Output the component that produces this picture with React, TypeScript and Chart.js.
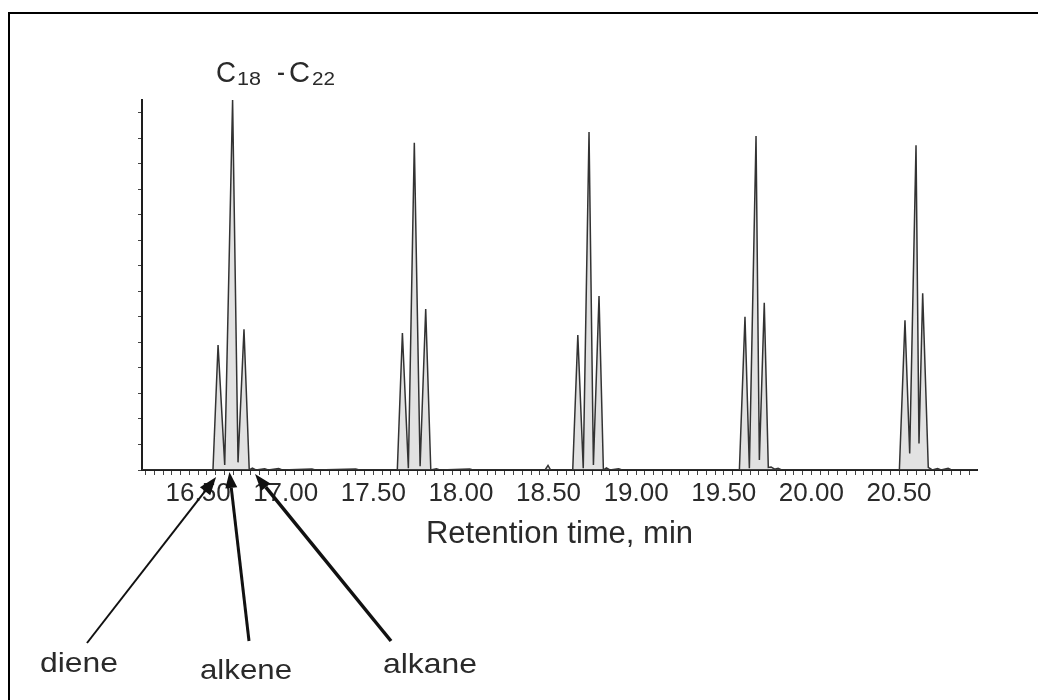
import React, { useEffect, useRef } from "react";
import { Chart, registerables } from "chart.js";

Chart.register(...registerables);

// ---- data ----
const retentionTimes = [
  16.18, 16.585, 16.614, 16.652, 16.697, 16.728, 16.762, 16.792,
  16.81, 16.83, 16.88, 16.9, 16.96, 16.98, 17.15, 17.17, 17.4, 17.42,
  17.637, 17.666, 17.7, 17.734, 17.767, 17.799, 17.828,
  17.86, 17.88, 18.05, 18.07, 18.48, 18.497, 18.512,
  18.638, 18.667, 18.698, 18.731, 18.756, 18.788, 18.813,
  18.83, 18.85, 18.9, 18.92,
  19.589, 19.621, 19.646, 19.684, 19.703, 19.731, 19.754, 19.77, 19.79, 19.81, 19.83,
  20.502, 20.534, 20.561, 20.597, 20.614, 20.635, 20.667, 20.69, 20.72, 20.74, 20.78, 20.8, 20.945,
];
const signal = [
  0, 0, 4.9, 0.2, 14.5, 0.3, 5.51, 0,
  0.07, 0, 0.05, 0, 0.06, 0, 0.04, 0, 0.04, 0,
  0, 5.37, 0.07, 12.82, 0.15, 6.31, 0,
  0.05, 0, 0.04, 0, 0, 0.18, 0,
  0, 5.29, 0.07, 13.25, 0.2, 6.82, 0,
  0.08, 0, 0.05, 0,
  0, 6.0, 0.07, 13.09, 0.39, 6.55, 0.1, 0.12, 0.03, 0.07, 0,
  0, 5.87, 0.65, 12.73, 1.04, 6.93, 0.1, 0, 0.06, 0, 0.07, 0, 0,
];
const xMajorTicks = [16.5, 17.0, 17.5, 18.0, 18.5, 19.0, 19.5, 20.0, 20.5];
const xMinorStep = 0.05;
const xMin = 16.18;
const xMax = 20.945;
const yMin = 0;
const yMax = 14.5;
const yTickStep = 1;
const xAxisTitle = "Retention time, min";
const arrowLabels = ["diene", "alkene", "alkane"];
const arrowTargetTimes = [16.603, 16.679, 16.825];

// ---- presentation ----
const FONT = '"Liberation Sans", Arial, Helvetica, sans-serif';
const INK = "#1e1e1e";

const arrowStyles = [
  { tailX: 87, tailY: 643, tipDrop: 7, lw: 2, head: 18, headW: 13, textX: 40, textY: 672, textW: 78 },
  { tailX: 249, tailY: 641, tipDrop: 2, lw: 3, head: 16, headW: 12, textX: 200, textY: 679, textW: 92 },
  { tailX: 391, tailY: 641, tipDrop: 4, lw: 3.5, head: 17, headW: 12, textX: 383, textY: 673, textW: 94 },
];

function drawFitText(ctx: CanvasRenderingContext2D, text: string, x: number, y: number, size: number, width: number) {
  ctx.font = `${size}px ${FONT}`;
  const w = ctx.measureText(text).width || 1;
  ctx.save();
  ctx.translate(x, y);
  ctx.scale(width / w, 1);
  ctx.textAlign = "left";
  ctx.textBaseline = "alphabetic";
  ctx.fillText(text, 0, 0);
  ctx.restore();
}

function drawArrow(ctx: CanvasRenderingContext2D, x1: number, y1: number, x2: number, y2: number, lw: number, headLen: number, headW: number) {
  const ang = Math.atan2(y2 - y1, x2 - x1);
  const bx = x2 - headLen * Math.cos(ang);
  const by = y2 - headLen * Math.sin(ang);
  ctx.lineWidth = lw;
  ctx.beginPath();
  ctx.moveTo(x1, y1);
  ctx.lineTo(bx, by);
  ctx.stroke();
  ctx.beginPath();
  ctx.moveTo(x2, y2);
  ctx.lineTo(bx + (headW / 2) * Math.sin(ang), by - (headW / 2) * Math.cos(ang));
  ctx.lineTo(bx - (headW / 2) * Math.sin(ang), by + (headW / 2) * Math.cos(ang));
  ctx.closePath();
  ctx.fill();
}

const annotationPlugin = {
  id: "chromAnnotations",
  afterDraw(chart: any) {
    const ctx: CanvasRenderingContext2D = chart.ctx;
    const xs = chart.scales.x;
    const ys = chart.scales.y;
    ctx.save();
    ctx.fillStyle = "#000";
    // frame (left + top edges)
    ctx.fillRect(8, 12, 2, 700);
    ctx.fillRect(8, 12, 1100, 2);

    ctx.fillStyle = "#2a2a2a";
    // C18 -C22 label
    drawFitText(ctx, "C", 216, 82, 29, 20);
    drawFitText(ctx, "18", 237, 85, 18, 24);
    drawFitText(ctx, "-", 277, 82, 29, 8);
    drawFitText(ctx, "C", 289, 82, 29, 21);
    drawFitText(ctx, "22", 312, 85, 18, 23);

    // arrows to diene / alkene / alkane
    ctx.strokeStyle = "#111";
    ctx.fillStyle = "#111";
    const base = ys.getPixelForValue(0);
    arrowLabels.forEach((label, i) => {
      const s = arrowStyles[i];
      const tipX = xs.getPixelForValue(arrowTargetTimes[i]);
      const tipY = base + s.tipDrop;
      drawArrow(ctx, s.tailX, s.tailY, tipX, tipY, s.lw, s.head, s.headW);
    });
    ctx.fillStyle = "#2a2a2a";
    arrowLabels.forEach((label, i) => {
      const s = arrowStyles[i];
      drawFitText(ctx, label, s.textX, s.textY, 28, s.textW);
    });
    ctx.restore();
  },
};

export default function App() {
  const canvasRef = useRef<HTMLCanvasElement | null>(null);

  useEffect(() => {
    if (!canvasRef.current) return;
    const points = retentionTimes.map((t, i) => ({ x: t, y: signal[i] }));
    const chart = new Chart(canvasRef.current, {
      type: "line",
      data: {
        datasets: [
          {
            data: points,
            borderColor: "#333",
            borderWidth: 1.5,
            pointRadius: 0,
            tension: 0,
            fill: "origin",
            backgroundColor: "rgba(150,150,150,0.28)",
          },
        ],
      },
      options: {
        responsive: false,
        animation: false,
        devicePixelRatio: 1,
        layout: { padding: { left: 0, top: 100, right: 61, bottom: 0 } },
        plugins: {
          legend: { display: false },
          tooltip: { enabled: false },
          filler: { propagate: false },
        },
        scales: {
          x: {
            type: "linear",
            min: xMin,
            max: xMax,
            afterBuildTicks: (axis: any) => {
              const ticks = [];
              const start = Math.ceil(xMin / xMinorStep - 1e-9);
              const end = Math.floor(xMax / xMinorStep + 1e-9);
              for (let i = start; i <= end; i++) ticks.push({ value: +(i * xMinorStep).toFixed(4) });
              axis.ticks = ticks;
            },
            afterFit: (axis: any) => {
              axis.height = 230;
            },
            ticks: {
              autoSkip: false,
              maxRotation: 0,
              minRotation: 0,
              padding: 3,
              color: "#2a2a2a",
              font: { family: FONT, size: 26 },
              callback: (value: any) =>
                xMajorTicks.some((m) => Math.abs(m - Number(value)) < 1e-6) ? Number(value).toFixed(2) : "",
            },
            grid: {
              display: true,
              drawOnChartArea: false,
              drawTicks: true,
              tickLength: 5,
              color: "#444",
              lineWidth: 1,
            },
            border: { display: true, color: INK, width: 2 },
            title: {
              display: true,
              text: xAxisTitle,
              color: "#2a2a2a",
              font: { family: FONT, size: 31 },
              padding: { top: 0, bottom: 147 },
            },
          },
          y: {
            type: "linear",
            min: yMin,
            max: yMax,
            afterBuildTicks: (axis: any) => {
              const ticks = [];
              for (let v = yMin; v <= yMax + 1e-9; v += yTickStep) ticks.push({ value: v });
              axis.ticks = ticks;
            },
            afterFit: (axis: any) => {
              axis.width = 142;
            },
            ticks: { display: false },
            grid: {
              display: true,
              drawOnChartArea: false,
              drawTicks: true,
              tickLength: 4,
              color: "#444",
              lineWidth: 1,
            },
            border: { display: true, color: INK, width: 2 },
          },
        },
      },
      plugins: [annotationPlugin],
    } as any);
    return () => chart.destroy();
  }, []);

  return (
    <div style={{ position: "fixed", left: 0, top: 0, width: 1038, height: 700, background: "#fff" }}>
      <canvas ref={canvasRef} width={1038} height={700} style={{ display: "block", width: 1038, height: 700 }} />
    </div>
  );
}
